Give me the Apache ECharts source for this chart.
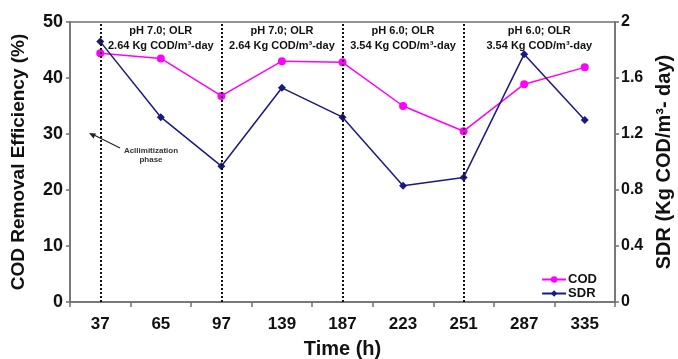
<!DOCTYPE html>
<html>
<head>
<meta charset="utf-8">
<script src="https://cdn.jsdelivr.net/npm/echarts@6/dist/echarts.min.js"></script>
<style>html,body{margin:0;padding:0;background:#fff;}#c{width:678px;height:359px;}</style>
</head>
<body>
<div id="c"></div>
<script>
var categories = ['37','65','97','139','187','223','251','287','335'];
var codValues = [44.4, 43.5, 36.8, 43.0, 42.8, 35.0, 30.5, 38.9, 41.9];
var sdrValues = [1.86, 1.32, 0.97, 1.53, 1.32, 0.83, 0.89, 1.77, 1.30];
var phaseLines = ['37','97','187','251'];
var phaseLine1 = ['pH 7.0; OLR','pH 7.0; OLR','pH 6.0; OLR','pH 6.0; OLR'];
var phaseLine2 = ['2.64 Kg COD/m³-day','2.64 Kg COD/m³-day','3.54 Kg COD/m³-day','3.54 Kg COD/m³-day'];
var leftTicks = {min:0, max:50, interval:10};
var rightTicks = {min:0, max:2, interval:0.4};

var FONT = 'Liberation Sans, Arial, sans-serif';
var axisColor = '#707070';
var chart = echarts.init(document.getElementById('c'));
var option = {
  animation:false,
  textStyle:{fontFamily:FONT},
  grid:{left:70, right:63, top:22, bottom:57, containLabel:false, outerBoundsMode:'none',
        show:true, borderColor:axisColor, borderWidth:1.5},
  legend:{
    data:['COD','SDR'], orient:'vertical', right:76, top:268, itemGap:1,
    itemWidth:24, itemHeight:8,
    textStyle:{fontFamily:FONT, fontWeight:'bold', fontSize:13, color:'#111', padding:[0,0,0,-3]}
  },
  xAxis:{
    type:'category', data:categories, boundaryGap:true,
    name:'Time (h)', nameLocation:'middle', nameGap:37,
    nameTextStyle:{fontFamily:FONT, fontWeight:'bold', fontSize:20, color:'#111'},
    axisLine:{lineStyle:{color:axisColor, width:1.5}},
    axisTick:{show:true, alignWithLabel:false, length:5, lineStyle:{color:axisColor, width:1.5}},
    axisLabel:{fontFamily:FONT, fontWeight:'bold', fontSize:17, color:'#111', margin:14},
    splitLine:{show:false}
  },
  yAxis:[{
    type:'value', min:leftTicks.min, max:leftTicks.max, interval:leftTicks.interval,
    name:'COD Removal Efficiency (%)', nameLocation:'middle', nameGap:42, nameRotate:90,
    nameTextStyle:{fontFamily:FONT, fontWeight:'bold', fontSize:19, color:'#111'},
    axisLine:{show:true, lineStyle:{color:axisColor, width:1.5}},
    axisTick:{show:true, length:4, lineStyle:{color:axisColor, width:1.5}},
    axisLabel:{fontFamily:FONT, fontWeight:'bold', fontSize:18, color:'#111', margin:7},
    splitLine:{show:false}
  },{
    type:'value', position:'right', min:rightTicks.min, max:rightTicks.max, interval:rightTicks.interval,
    name:'SDR (Kg COD/m³- day)', nameLocation:'middle', nameGap:38, nameRotate:90,
    nameTextStyle:{fontFamily:FONT, fontWeight:'bold', fontSize:20, color:'#111'},
    axisLine:{show:true, lineStyle:{color:axisColor, width:1.5}},
    axisTick:{show:true, length:4, lineStyle:{color:axisColor, width:1.5}},
    axisLabel:{fontFamily:FONT, fontWeight:'bold', fontSize:16, color:'#111', margin:6,
      formatter:function(v){return String(Math.round(v*10)/10);}},
    splitLine:{show:false}
  }],
  series:[{
    name:'COD', type:'line', yAxisIndex:0, data:codValues,
    symbol:'circle', symbolSize:8,
    itemStyle:{color:'#ff00ff'}, lineStyle:{color:'#ff00ff', width:1.5},
    z:3,
    markLine:{
      silent:true, symbol:['none','none'], label:{show:false},
      lineStyle:{color:'#111', type:'dotted', width:2},
      data:phaseLines.map(function(c){return {xAxis:c};})
    }
  },{
    name:'SDR', type:'line', yAxisIndex:1, data:sdrValues,
    symbol:'diamond', symbolSize:8,
    itemStyle:{color:'#1a1a80'}, lineStyle:{color:'#1a1a80', width:1.5},
    z:4
  }]
};
chart.setOption(option);

// phase annotations centred in each region
var gridRight = 678 - 63;
var graphics = [];
for (var i=0;i<phaseLines.length;i++){
  var x0 = chart.convertToPixel({xAxisIndex:0}, phaseLines[i]);
  var x1 = (i+1<phaseLines.length) ? chart.convertToPixel({xAxisIndex:0}, phaseLines[i+1]) : gridRight;
  var cx = (x0+x1)/2;
  graphics.push({type:'text', x:cx, y:25, style:{text:phaseLine1[i], fill:'#111', font:'bold 11px '+FONT, textAlign:'center', textVerticalAlign:'top'}});
  graphics.push({type:'text', x:cx, y:40, style:{text:phaseLine2[i], fill:'#111', font:'bold 11px '+FONT, textAlign:'center', textVerticalAlign:'top'}});
}
// acclimatization note
graphics.push({type:'line', shape:{x1:120, y1:148, x2:92, y2:134}, style:{stroke:'#222', lineWidth:1.2}});
graphics.push({type:'polygon', shape:{points:[[89,133],[96,133.5],[93.5,138.5]]}, style:{fill:'#222'}});
graphics.push({type:'text', x:151, y:151, style:{text:'Acllimitization', fill:'#333', font:'bold 8px '+FONT, textAlign:'center', textVerticalAlign:'middle'}});
graphics.push({type:'text', x:151, y:160, style:{text:'phase', fill:'#333', font:'bold 8px '+FONT, textAlign:'center', textVerticalAlign:'middle'}});
chart.setOption({graphic:graphics});
</script>
</body>
</html>
